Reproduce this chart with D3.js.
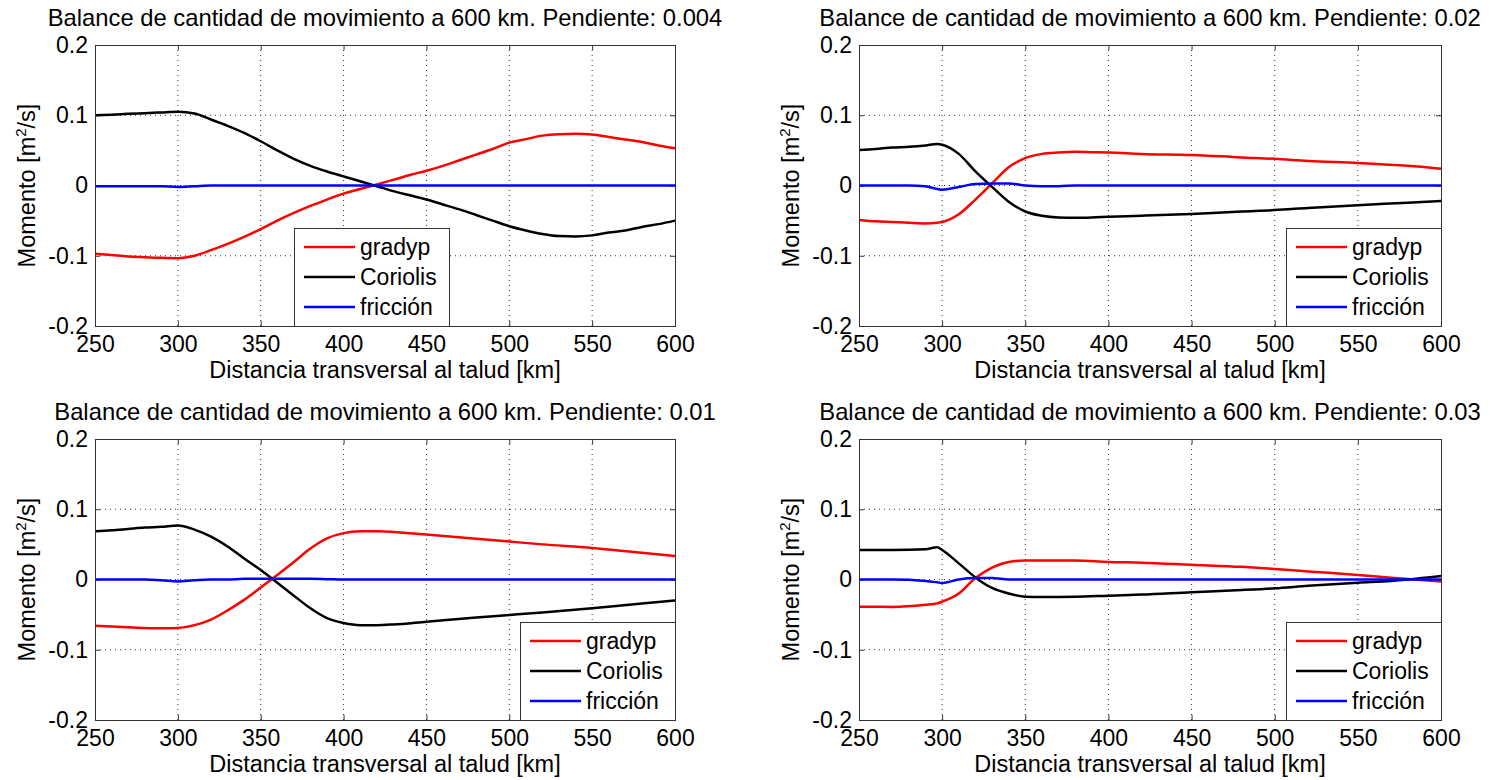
<!DOCTYPE html>
<html>
<head>
<meta charset="utf-8">
<script src="https://cdn.jsdelivr.net/npm/d3@7"></script>
<style>
  html, body { margin: 0; padding: 0; background: #fff; }
  svg { display: block; }
  text { font-family: "Liberation Sans", Arial, Helvetica, sans-serif; fill: #000; }
</style>
</head>
<body>
<svg id="chart" width="1490" height="780"></svg>
<script>
// ---------- DATA ----------
const titles = [
  "Balance de cantidad de movimiento a 600 km. Pendiente: 0.004",
  "Balance de cantidad de movimiento a 600 km. Pendiente: 0.02",
  "Balance de cantidad de movimiento a 600 km. Pendiente: 0.01",
  "Balance de cantidad de movimiento a 600 km. Pendiente: 0.03"
];
const seriesNames = ["gradyp", "Coriolis", "fricción"];
const seriesColors = ["#ff0000", "#000000", "#0000ff"];
const xTicks = [250, 300, 350, 400, 450, 500, 550, 600];
const yTicks = [-0.2, -0.1, 0, 0.1, 0.2];
const yTickLabels = ["-0.2", "-0.1", "0", "0.1", "0.2"];
const xLabel = "Distancia transversal al talud [km]";

// Panel 1: Pendiente 0.004
const x_p004 = [250,260,270,280,290,300,310,320,330,340,350,360,370,380,390,400,410,420,430,440,450,460,470,480,490,500,510,520,530,540,550,560,570,580,590,600];
const grad_p004 = [-0.097,-0.099,-0.101,-0.102,-0.103,-0.1035,-0.100,-0.092,-0.083,-0.073,-0.062,-0.050,-0.039,-0.029,-0.020,-0.0115,-0.005,0.0015,0.008,0.015,0.021,0.028,0.036,0.044,0.052,0.061,0.066,0.071,0.073,0.0735,0.0726,0.069,0.0655,0.062,0.057,0.053];
const cor_p004 = [0.1,0.1008,0.102,0.103,0.104,0.105,0.1025,0.094,0.085,0.075,0.063,0.050,0.038,0.028,0.020,0.013,0.006,-0.001,-0.008,-0.014,-0.020,-0.027,-0.034,-0.042,-0.050,-0.058,-0.064,-0.069,-0.072,-0.0726,-0.071,-0.067,-0.064,-0.059,-0.055,-0.050];
const fric_p004 = [-0.001,-0.001,-0.001,-0.001,-0.001,-0.002,-0.001,0,0,0,0,0,0,0,0,0,0,0,0,0,0,0,0,0,0,0,0,0,0,0,0,0,0,0,0,0];

// Panel 2: Pendiente 0.02
const x_p02 = [250,260,270,280,290,297,300,310,320,330,340,350,360,370,380,390,400,420,450,480,500,520,550,580,600];
const grad_p02 = [-0.049,-0.051,-0.052,-0.053,-0.054,-0.053,-0.052,-0.041,-0.020,0.003,0.026,0.039,0.045,0.047,0.048,0.0475,0.047,0.045,0.0435,0.040,0.038,0.035,0.032,0.028,0.024];
const cor_p02 = [0.0505,0.052,0.054,0.055,0.057,0.059,0.058,0.045,0.020,-0.002,-0.023,-0.037,-0.043,-0.0455,-0.046,-0.0455,-0.0445,-0.043,-0.0405,-0.037,-0.035,-0.032,-0.028,-0.0245,-0.022];
const fric_p02 = [0,0,0,0,-0.001,-0.005,-0.006,-0.002,0.002,0.003,0.003,0,-0.001,-0.001,0,0,0,0,0,0,0,0,0,0,0];

// Panel 3: Pendiente 0.01
const x_p01 = [250,260,270,280,290,300,310,320,330,340,350,360,370,380,390,400,410,420,430,450,480,500,520,550,580,600];
const grad_p01 = [-0.0657,-0.067,-0.068,-0.069,-0.0695,-0.069,-0.065,-0.057,-0.044,-0.029,-0.0115,0.0065,0.025,0.044,0.0585,0.066,0.0686,0.0686,0.0677,0.064,0.058,0.054,0.050,0.045,0.038,0.0335];
const cor_p01 = [0.0686,0.070,0.072,0.074,0.075,0.077,0.071,0.061,0.047,0.030,0.0135,-0.0045,-0.023,-0.041,-0.055,-0.062,-0.065,-0.065,-0.064,-0.060,-0.054,-0.0505,-0.047,-0.041,-0.034,-0.030];
const fric_p01 = [0,0,0,0,-0.001,-0.003,-0.001,0,0,0.001,0.001,0.001,0.001,0.001,0.0005,0,0,0,0,0,0,0,0,0,0,0];

// Panel 4: Pendiente 0.03
const x_p03 = [250,270,290,297,300,310,320,330,340,350,360,380,400,420,450,480,500,520,550,570,580,600];
const grad_p03 = [-0.0387,-0.039,-0.036,-0.034,-0.0316,-0.020,0.002,0.017,0.025,0.027,0.027,0.027,0.025,0.024,0.021,0.018,0.015,0.0115,0.0065,0.0025,0.0007,-0.003];
const cor_p03 = [0.042,0.042,0.043,0.0458,0.042,0.023,0.003,-0.012,-0.020,-0.0245,-0.025,-0.0245,-0.023,-0.0215,-0.018,-0.015,-0.0125,-0.009,-0.0045,-0.002,0,0.005];
const fric_p03 = [0,0,-0.002,-0.004,-0.005,0,0.002,0.002,0,0,0,0,0,0,0,0,0,0,0,0,0,0];

// ---------- LAYOUT ----------
const panels = [
  { title: titles[0], x: x_p004, ys: [grad_p004, cor_p004, fric_p004], box: {l: 95,  t: 45,  w: 580, h: 281}, legend: "inner" },
  { title: titles[1], x: x_p02,  ys: [grad_p02,  cor_p02,  fric_p02],  box: {l: 859, t: 45,  w: 582, h: 281}, legend: "right" },
  { title: titles[2], x: x_p01,  ys: [grad_p01,  cor_p01,  fric_p01],  box: {l: 95,  t: 439, w: 580, h: 281}, legend: "right" },
  { title: titles[3], x: x_p03,  ys: [grad_p03,  cor_p03,  fric_p03],  box: {l: 859, t: 439, w: 582, h: 281}, legend: "right" }
];

const svg = d3.select("#chart");
svg.append("rect").attr("width", 1490).attr("height", 780).attr("fill", "#fff");

panels.forEach(p => {
  const b = p.box;
  const g = svg.append("g");
  const x = d3.scaleLinear().domain([250, 600]).range([b.l, b.l + b.w]);
  const y = d3.scaleLinear().domain([-0.2, 0.2]).range([b.t + b.h, b.t]);

  // grid
  g.selectAll(".gx").data(xTicks.slice(1, -1)).enter().append("line")
    .attr("x1", d => x(d)).attr("x2", d => x(d))
    .attr("y1", b.t).attr("y2", b.t + b.h)
    .attr("stroke", "#333").attr("stroke-width", 1).attr("stroke-dasharray", "1,4");
  g.selectAll(".gy").data(yTicks.slice(1, -1)).enter().append("line")
    .attr("y1", d => y(d)).attr("y2", d => y(d))
    .attr("x1", b.l).attr("x2", b.l + b.w)
    .attr("stroke", "#333").attr("stroke-width", 1).attr("stroke-dasharray", "1,4");

  // axes with inward ticks
  const ax = d3.axisBottom(x).tickValues(xTicks).tickSizeInner(-5).tickSizeOuter(0).tickPadding(10).tickFormat(d3.format("d"));
  const ay = d3.axisLeft(y).tickValues(yTicks).tickSizeInner(-5).tickSizeOuter(0).tickPadding(7)
    .tickFormat((d, i) => yTickLabels[i]);
  const axT = d3.axisTop(x).tickValues(xTicks).tickSizeInner(-5).tickSizeOuter(0).tickFormat("");
  const ayR = d3.axisRight(y).tickValues(yTicks).tickSizeInner(-5).tickSizeOuter(0).tickFormat("");

  const gx = g.append("g").attr("transform", `translate(0,${b.t + b.h})`).call(ax);
  const gy = g.append("g").attr("transform", `translate(${b.l},0)`).call(ay);
  const gxt = g.append("g").attr("transform", `translate(0,${b.t})`).call(axT);
  const gyr = g.append("g").attr("transform", `translate(${b.l + b.w},0)`).call(ayR);
  [gx, gy, gxt, gyr].forEach(a => {
    a.select(".domain").remove();
    a.selectAll("line").attr("stroke", "#333").attr("stroke-width", 1);
    a.selectAll("text").attr("font-size", 23).attr("font-family", "Liberation Sans, Arial, sans-serif").attr("fill", "#000");
  });
  gx.selectAll("text").attr("dy", "0.71em");

  // series
  const line = d3.line().curve(d3.curveMonotoneX);
  p.ys.forEach((vals, i) => {
    const pts = p.x.map((xv, k) => [x(xv), y(vals[k])]);
    g.append("path").attr("d", line(pts))
      .attr("fill", "none").attr("stroke", seriesColors[i]).attr("stroke-width", 2.5)
      .attr("stroke-linejoin", "round");
  });

  // box
  g.append("rect").attr("x", b.l).attr("y", b.t).attr("width", b.w).attr("height", b.h)
    .attr("fill", "none").attr("stroke", "#333").attr("stroke-width", 1).attr("shape-rendering", "crispEdges");

  // title
  g.append("text").attr("x", b.l + b.w / 2).attr("y", b.t - 19)
    .attr("text-anchor", "middle").attr("font-size", 23.8).text(p.title);

  // x label
  g.append("text").attr("x", b.l + b.w / 2).attr("y", b.t + b.h + 52)
    .attr("text-anchor", "middle").attr("font-size", 23.5).text(xLabel);

  // y label
  const yl = g.append("text")
    .attr("transform", `translate(${b.l - 60},${b.t + b.h / 2}) rotate(-90)`)
    .attr("text-anchor", "middle").attr("font-size", 23.5);
  yl.append("tspan").text("Momento [m");
  yl.append("tspan").attr("font-size", 15).attr("dy", -9).text("2");
  yl.append("tspan").attr("dy", 9).text("/s]");

  // legend
  const lw = 155, lh = 98;
  const lx = p.legend === "inner" ? b.l + 199 : b.l + b.w - lw;
  const ly = b.t + b.h - lh;
  const lg = g.append("g");
  lg.append("rect").attr("x", lx).attr("y", ly).attr("width", lw).attr("height", lh)
    .attr("fill", "#fff").attr("stroke", "#333").attr("stroke-width", 1).attr("shape-rendering", "crispEdges");
  seriesNames.forEach((name, i) => {
    const ry = ly + 19 + i * 30;
    lg.append("line").attr("x1", lx + 10).attr("x2", lx + 61).attr("y1", ry).attr("y2", ry)
      .attr("stroke", seriesColors[i]).attr("stroke-width", 2.5);
    lg.append("text").attr("x", lx + 66).attr("y", ry).attr("dy", "0.35em")
      .attr("font-size", 23).text(name);
  });
});
</script>
</body>
</html>
